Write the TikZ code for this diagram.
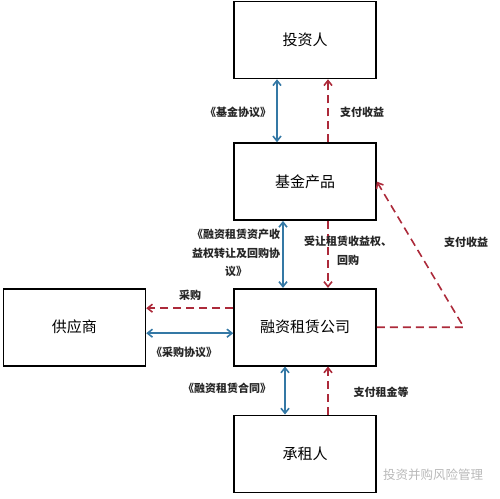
\documentclass[tikz,border=0pt]{standalone}
\usepackage{fontspec}
\setmainfont{Noto Sans CJK SC}
\usetikzlibrary{arrows.meta, positioning, calc}
\definecolor{flowblue}{RGB}{52, 120, 165}
\definecolor{flowred}{RGB}{172, 42, 58}

\begin{document}
\begin{tikzpicture}[x=1pt, y=-1pt,
        node distance=60pt,
        party/.style={draw=black, line width=1.6pt, minimum width=142pt, minimum height=77pt, font=\fontsize{15}{18}\selectfont},
        lbl/.style={font=\fontsize{11}{18.5}\selectfont\bfseries, text=black!85, align=center, inner sep=1pt},
        deal/.style={{Straight Barb[length=5pt, width=8pt]}-{Straight Barb[length=5pt, width=8pt]}, line width=1.6pt, flowblue},
        cash/.style={-{Straight Barb[length=5pt, width=8pt]}, line width=1.6pt, flowred, dash pattern=on 8pt off 5pt},
        wmark/.style={font=\fontsize{12.5}{15}\selectfont, text=gray!55}
      ]
        \useasboundingbox (0,0) rectangle (500,498);
        \node[party] (inv) at (305,40) {投资人};
        \node[party, below=63pt of inv] (fund) {基金产品};
        \node[party, below=67pt of fund] (lease) {融资租赁公司};
        \node[party, left=87pt of lease] (supp) {供应商};
        \node[party, below=48pt of lease] (lessee) {承租人};
        \coordinate[right=87pt of lease.east] (turn);
        % vertical flows
        \draw[deal] ([xshift=-28pt]inv.south) -- ([xshift=-28pt]fund.north);
        \draw[cash] ([xshift=23pt]fund.north) -- ([xshift=23pt]inv.south);
        \draw[deal] ([xshift=-22pt]fund.south) -- ([xshift=-22pt]lease.north);
        \draw[cash] ([xshift=23pt]fund.south) -- ([xshift=23pt]lease.north);
        \draw[deal] ([xshift=-20pt]lease.south) -- ([xshift=-20pt]lessee.north);
        \draw[cash] ([xshift=23pt]lessee.north) -- ([xshift=23pt]lease.south);
        % supplier flows
        \draw[cash] ([yshift=19pt]lease.west) -- ([yshift=19pt]supp.east);
        \draw[deal] ([yshift=-6pt]supp.east) -- ([yshift=-6pt]lease.west);
        % return to fund
        \draw[cash] (lease.east) -- (turn) -- (fund.east);
        % labels
        \node[lbl] (fundpact) at (238,112) {《基金协议》};
        \node[lbl] (payret) at (362,112) {支付收益};
        \node[lbl] (abspact) at (236,253) {《融资租赁资产收\\益权转让及回购协\\议》};
        \node[lbl] (transfer) at (348,251) {受让租赁收益权、\\回购};
        \node[lbl] (payret2) at (466,242) {支付收益};
        \node[lbl] (buy) at (190,295) {采购};
        \node[lbl] (buypact) at (184,352) {《采购协议》};
        \node[lbl] (leasepact) at (227,388) {《融资租赁合同》};
        \node[lbl] (rent) at (381,392) {支付租金等};
        \node[wmark] (wm) at (433,475) {投资并购风险管理};
      \end{tikzpicture}
\end{document}
